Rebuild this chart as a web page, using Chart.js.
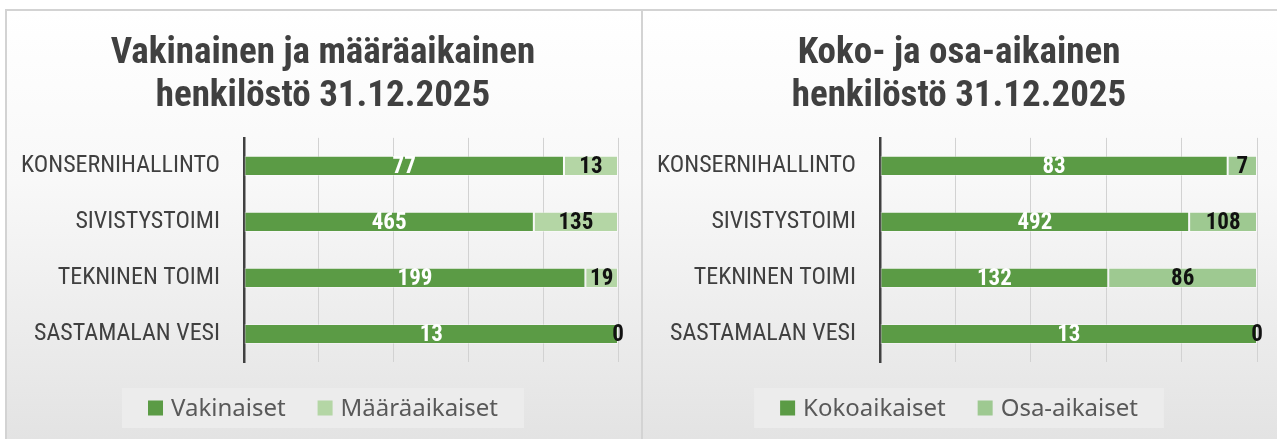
<!DOCTYPE html>
<html>
<head>
<meta charset="utf-8">
<script src="https://cdn.jsdelivr.net/npm/chart.js@4.4.1/dist/chart.umd.min.js"></script>
<style>
  html, body { margin: 0; padding: 0; background: #fff; }
  body { width: 1277px; height: 439px; position: relative; overflow: hidden; }
  .panel {
    position: absolute; top: 9px; height: 430px; box-sizing: border-box;
    background: linear-gradient(to bottom, #ffffff 0%, #f8f8f8 40%, #e3e3e3 100%);
    border: 2px solid #d3d3d3; border-bottom: none;
  }
  #p1 { left: 5px; width: 638px; }
  #p2 { left: 641px; width: 636px; border-right: none; }
  canvas { position: absolute; top: 9px; }
  #c1 { left: 5px; }
  #c2 { left: 641px; }
</style>
</head>
<body>
<div class="panel" id="p1"></div>
<div class="panel" id="p2"></div>
<canvas id="c1" width="636" height="430"></canvas>
<canvas id="c2" width="636" height="430"></canvas>
<script>
// data
const categories = ['KONSERNIHALLINTO', 'SIVISTYSTOIMI', 'TEKNINEN TOIMI', 'SASTAMALAN VESI'];

const titleLeft = ['Vakinainen ja määräaikainen', 'henkilöstö 31.12.2025'];
const vakinaiset = [77, 465, 199, 13];
const maaraaikaiset = [13, 135, 19, 0];

const titleRight = ['Koko- ja osa-aikainen', 'henkilöstö 31.12.2025'];
const kokoaikaiset = [83, 492, 132, 13];
const osaaikaiset = [7, 108, 86, 0];

const narrow = '"Roboto Condensed", "Open Sans Condensed", sans-serif';

// share of row total, for the 100 % stacked bars
function share(a, b) {
    return a.map((v, i) => v / (a[i] + b[i]) * 100);
}

// value labels inside the segments
const barLabels = {
    id: 'barLabels',
    afterDatasetsDraw(chart) {
        const ctx = chart.ctx;
        ctx.save();
        ctx.font = 'bold 23px ' + narrow;
        ctx.textAlign = 'center';
        ctx.textBaseline = 'middle';
        chart.data.datasets.forEach((ds, i) => {
            const meta = chart.getDatasetMeta(i);
            meta.data.forEach((bar, j) => {
                ctx.fillStyle = ds.labelColor;
                ctx.fillText(ds.raw[j], (bar.x + bar.base) / 2, bar.y + 1);
            });
        });
        ctx.restore();
    }
};

// legend in a light box under the plot
const boxLegend = {
    id: 'boxLegend',
    afterDraw(chart) {
        const ctx = chart.ctx;
        const sq = 15, gap = 8, itemGap = 32;
        const cy = 399;
        ctx.save();
        ctx.font = '24px "Noto Sans", sans-serif';
        const items = chart.data.datasets.map(ds => ({
            text: ds.label, color: ds.backgroundColor, w: ctx.measureText(ds.label).width
        }));
        let total = 0;
        items.forEach((it, i) => { total += sq + gap + it.w + (i ? itemGap : 0); });
        const cx = chart.width / 2;
        ctx.fillStyle = 'rgba(236,236,236,0.9)';
        ctx.fillRect(cx - total / 2 - 26, cy - 20, total + 52, 40);
        let x = cx - total / 2;
        ctx.textBaseline = 'middle';
        items.forEach(it => {
            ctx.fillStyle = it.color;
            ctx.fillRect(x, cy - sq / 2, sq, sq);
            x += sq + gap;
            ctx.fillStyle = '#595959';
            ctx.fillText(it.text, x, cy + 1);
            x += it.w + itemGap;
        });
        ctx.restore();
    }
};

function makeChart(id, title, names, dark, light, lightColor, rightGap) {
    return new Chart(document.getElementById(id), {
        type: 'bar',
        data: {
            labels: categories,
            datasets: [{
                label: names[0],
                data: share(dark, light),
                raw: dark,
                labelColor: '#ffffff',
                backgroundColor: '#5b9b45',
                borderColor: 'rgba(255,255,255,0.35)',
                borderWidth: 1,
                borderSkipped: false
            }, {
                label: names[1],
                data: share(light, dark),
                raw: light,
                labelColor: '#111111',
                backgroundColor: lightColor,
                borderColor: 'rgba(255,255,255,0.35)',
                borderWidth: 1,
                borderSkipped: false
            }]
        },
        options: {
            indexAxis: 'y',
            responsive: false,
            animation: false,
            barPercentage: 0.36,
            categoryPercentage: 1,
            layout: { padding: { left: 0, right: 0, top: 0, bottom: 77 } },
            scales: {
                x: {
                    stacked: true, min: 0, max: 100,
                    ticks: { display: false, stepSize: 20 },
                    grid: { color: '#d2d2d2', drawTicks: false, lineWidth: 1 },
                    border: { display: false }
                },
                y: {
                    stacked: true,
                    grid: { display: false, drawTicks: false },
                    border: { display: true, color: '#404040', width: 2.5 },
                    ticks: { color: '#404040', padding: 24, font: { family: narrow, size: 24 } },
                    afterFit: s => { s.width = 239; }
                },
                // empty spacer on the right so the title stays centred on the panel
                spacer: {
                    type: 'linear', position: 'right', display: true,
                    ticks: { display: false },
                    grid: { display: false, drawTicks: false },
                    border: { display: false },
                    afterFit: s => { s.width = rightGap; }
                }
            },
            plugins: {
                legend: { display: false },
                tooltip: { enabled: false },
                title: {
                    display: true,
                    text: title,
                    color: '#404040',
                    font: { family: narrow, size: 37, weight: 'bold', lineHeight: 1.16 },
                    padding: { top: 23, bottom: 20 }
                }
            }
        },
        plugins: [barLabels, boxLegend]
    });
}

makeChart('c1', titleLeft, ['Vakinaiset', 'Määräaikaiset'], vakinaiset, maaraaikaiset, '#b4d6a5', 23);
makeChart('c2', titleRight, ['Kokoaikaiset', 'Osa-aikaiset'], kokoaikaiset, osaaikaiset, '#9ec991', 20);
</script>
</body>
</html>
